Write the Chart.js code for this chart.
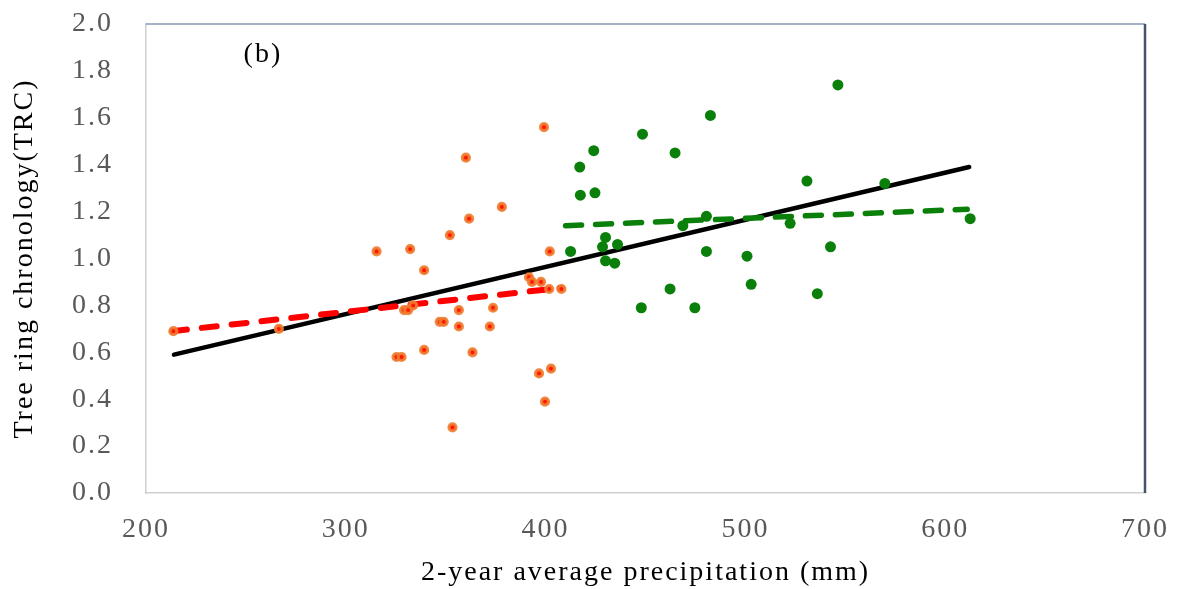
<!DOCTYPE html>
<html>
<head>
<meta charset="utf-8">
<script src="https://cdn.jsdelivr.net/npm/chart.js@4.4.0/dist/chart.umd.min.js"></script>
<style>
    html, body { margin: 0; padding: 0; background: #fff; }
</style>
</head>
<body>
<canvas id="trcChart" width="1180" height="589"></canvas>
<script>
// Tree ring chronology vs 2-year average precipitation
// Dry years (< ~410 mm)
const dryPrecip = [213.7, 266.5, 315.4, 332.2, 339.2, 352.1, 360.1, 361.7, 378.1, 399.2,
    402.1, 391.7, 393.2, 397.7, 401.8, 407.9, 356.6, 373.7, 347.0, 349.0,
    356.6, 372.1, 329.2, 331.2, 333.7, 325.4, 327.9, 339.2, 363.4, 396.7,
    402.7, 399.7, 353.4];
const dryTrc = [0.69, 0.70, 1.03, 1.04, 0.95, 1.10, 1.43, 1.17, 1.22, 1.56,
    1.03, 0.92, 0.90, 0.90, 0.87, 0.87, 0.78, 0.79, 0.73, 0.73,
    0.71, 0.71, 0.78, 0.78, 0.80, 0.58, 0.58, 0.61, 0.60, 0.51,
    0.53, 0.39, 0.28];

// Wet years (>= ~410 mm)
const wetPrecip = [412.5, 417.1, 424.1, 417.4, 424.7, 430.0, 428.5, 436.0, 430.0, 434.6,
    448.5, 464.8, 462.3, 447.9, 474.7, 468.7, 480.5, 482.5, 480.5, 500.8,
    502.9, 522.4, 530.8, 536.0, 542.6, 546.3, 569.8, 612.5];
const wetTrc = [1.03, 1.39, 1.46, 1.27, 1.28, 1.09, 1.05, 1.06, 0.99, 0.98,
    1.53, 1.45, 0.87, 0.79, 0.79, 1.14, 1.18, 1.61, 1.03, 1.01,
    0.89, 1.15, 1.33, 0.85, 1.05, 1.74, 1.32, 1.17];

// Linear fits (end points)
const dryFitPrecip = [213, 408];
const dryFitTrc = [0.69, 0.875];
const wetFitPrecip = [410, 611];
const wetFitTrc = [1.14, 1.21];
const allFitPrecip = [214, 612];
const allFitTrc = [0.59, 1.39];

const xTicks = [200, 300, 400, 500, 600, 700];
const yTickLabels = ['0.0', '0.2', '0.4', '0.6', '0.8', '1.0', '1.2', '1.4', '1.6', '1.8', '2.0'];

const serif = '"Liberation Serif", "Times New Roman", serif';

function toPoints(xs, ys) {
    return xs.map((x, i) => ({ x: x, y: ys[i] }));
}

// Slightly spaced-out lettering for all canvas text
const wideText = {
    id: 'wideText',
    beforeDraw(chart) {
        chart.ctx.letterSpacing = '2px';
    }
};

// Panel letter and the dark top/right frame
const frameAndLabel = {
    id: 'frameAndLabel',
    afterDraw(chart) {
        const ctx = chart.ctx;
        const a = chart.chartArea;
        ctx.save();
        ctx.strokeStyle = '#8497b0';
        ctx.lineWidth = 1.5;
        ctx.beginPath();
        ctx.moveTo(a.left, a.top);
        ctx.lineTo(a.right, a.top);
        ctx.stroke();
        ctx.strokeStyle = '#44546a';
        ctx.lineWidth = 2.5;
        ctx.beginPath();
        ctx.moveTo(a.right, a.top);
        ctx.lineTo(a.right, a.bottom);
        ctx.stroke();

        ctx.font = '28px ' + serif;
        ctx.fillStyle = '#000';
        ctx.textAlign = 'center';
        ctx.textBaseline = 'middle';
        ctx.fillText('(b)', chart.scales.x.getPixelForValue(258.5), chart.scales.y.getPixelForValue(1.87));
        ctx.restore();
    }
};

const ctx = document.getElementById('trcChart');
new Chart(ctx, {
    type: 'scatter',
    data: {
        datasets: [{
            label: 'dry',
            data: toPoints(dryPrecip, dryTrc),
            pointRadius: 3.5,
            pointHoverRadius: 3.5,
            pointBorderWidth: 3.2,
            pointBackgroundColor: '#ff1500',
            pointBorderColor: 'rgba(238,125,49,0.9)'
        }, {
            label: 'wet',
            data: toPoints(wetPrecip, wetTrc),
            pointRadius: 5.5,
            pointHoverRadius: 5.5,
            pointBorderWidth: 0,
            pointBackgroundColor: '#0a800a'
        }, {
            label: 'dry fit',
            data: toPoints(dryFitPrecip, dryFitTrc),
            showLine: true,
            pointRadius: 0,
            borderColor: '#ff0000',
            borderWidth: 6,
            borderDash: [15, 15],
            borderCapStyle: 'round'
        }, {
            label: 'wet fit',
            data: toPoints(wetFitPrecip, wetFitTrc),
            showLine: true,
            pointRadius: 0,
            borderColor: '#0a800a',
            borderWidth: 5.5,
            borderDash: [16, 14],
            borderCapStyle: 'round'
        }, {
            label: 'all fit',
            data: toPoints(allFitPrecip, allFitTrc),
            showLine: true,
            pointRadius: 0,
            borderColor: '#000000',
            borderWidth: 4.5,
            borderCapStyle: 'round'
        }]
    },
    options: {
        responsive: false,
        animation: false,
        layout: {
            padding: { top: 24, right: 35, left: 0, bottom: 0 }
        },
        plugins: {
            legend: { display: false },
            tooltip: { enabled: false }
        },
        scales: {
            x: {
                type: 'linear',
                min: 200,
                max: 700,
                afterBuildTicks: function(scale) {
                    scale.ticks = xTicks.map(v => ({ value: v }));
                },
                afterFit: function(scale) {
                    scale.height = 96;
                },
                // invisible tick marks keep the labels clear of the axis
                grid: { display: false, drawTicks: true, tickLength: 20 },
                border: { color: '#d0d0d0', width: 1.5 },
                ticks: {
                    padding: 0,
                    color: '#595959',
                    font: { family: serif, size: 28 }
                },
                title: {
                    display: true,
                    text: '2-year average precipitation (mm)',
                    color: '#000',
                    font: { family: serif, size: 28 },
                    padding: { top: 0, bottom: 0 }
                }
            },
            y: {
                type: 'linear',
                min: 0,
                max: 2,
                afterBuildTicks: function(scale) {
                    scale.ticks = yTickLabels.map(v => ({ value: parseFloat(v) }));
                },
                afterFit: function(scale) {
                    scale.width = 146;
                },
                grid: { display: false, drawTicks: true, tickLength: 33 },
                border: { color: '#d0d0d0', width: 1.5 },
                ticks: {
                    padding: 0,
                    color: '#595959',
                    font: { family: serif, size: 28 },
                    callback: function(value, index) {
                        return yTickLabels[index];
                    }
                },
                title: {
                    display: true,
                    text: 'Tree ring chronology(TRC)',
                    color: '#000',
                    font: { family: serif, size: 28 },
                    padding: { top: 8, bottom: 0 }
                }
            }
        }
    },
    plugins: [wideText, frameAndLabel]
});
</script>
</body>
</html>
